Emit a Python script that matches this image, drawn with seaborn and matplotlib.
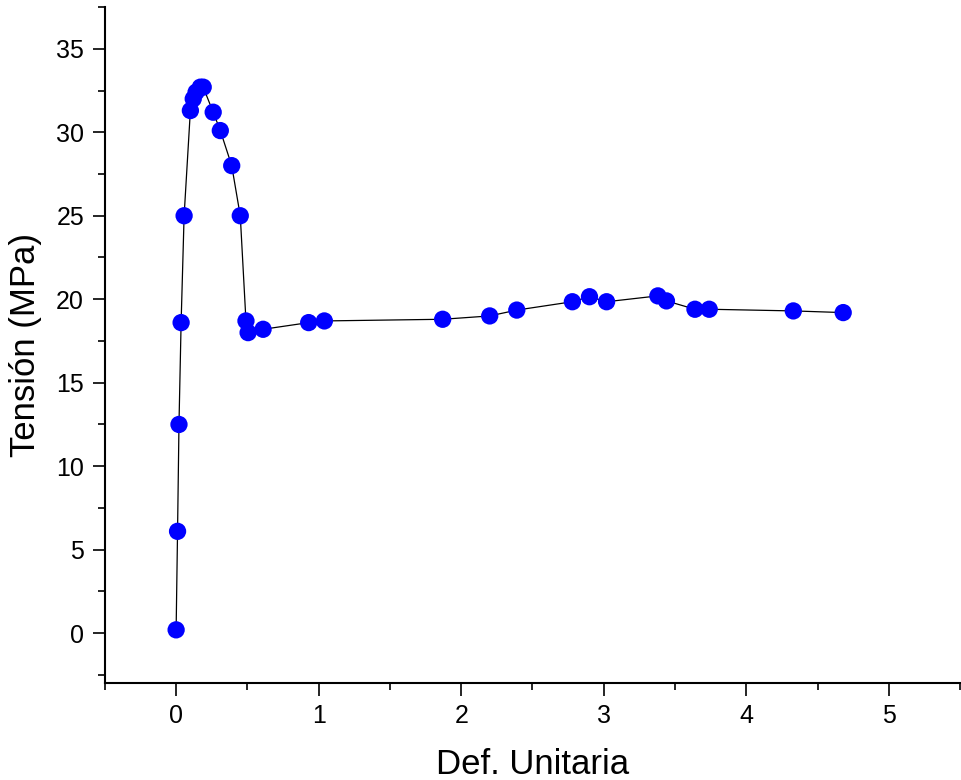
import matplotlib
matplotlib.use("Agg")
import matplotlib.pyplot as plt
import seaborn as sns
import pandas as pd
from matplotlib.ticker import MultipleLocator

strain = [0.0, 0.01, 0.02, 0.035, 0.056, 0.10, 0.12, 0.14, 0.17, 0.19,
          0.26, 0.31, 0.39, 0.45, 0.49, 0.505, 0.61,
          0.93, 1.04, 1.87, 2.20, 2.39, 2.78, 2.90, 3.02, 3.38, 3.44,
          3.64, 3.74, 4.33, 4.68]
stress = [0.2, 6.1, 12.5, 18.6, 25.0, 31.3, 32.0, 32.4, 32.7, 32.7,
          31.2, 30.1, 28.0, 25.0, 18.7, 18.0, 18.2,
          18.6, 18.7, 18.8, 19.0, 19.35, 19.85, 20.15, 19.85, 20.2, 19.9,
          19.4, 19.4, 19.3, 19.2]

df = pd.DataFrame({"Def. Unitaria": strain, "Tensión (MPa)": stress})

sns.set_style("ticks")
plt.rcParams['font.family'] = ['Liberation Sans', 'DejaVu Sans']
plt.rcParams['text.color'] = 'black'
plt.rcParams['axes.labelcolor'] = 'black'

fig = plt.figure(figsize=(9.62, 7.8), dpi=100)
ax = fig.add_axes([0.109, 0.124, 0.889, 0.867])

sns.lineplot(data=df, x="Def. Unitaria", y="Tensión (MPa)", sort=False,
             color="black", linewidth=0.9, ax=ax, zorder=2)
sns.scatterplot(data=df, x="Def. Unitaria", y="Tensión (MPa)", color="#0000FF",
                s=155, edgecolor="none", ax=ax, zorder=3)

ax.set_xlim(-0.5, 5.5)
ax.set_ylim(-3, 37.5)
ax.xaxis.set_major_locator(MultipleLocator(1))
ax.xaxis.set_minor_locator(MultipleLocator(0.5))
ax.yaxis.set_major_locator(MultipleLocator(5))
ax.yaxis.set_minor_locator(MultipleLocator(2.5))

for s in ["top", "right"]:
    ax.spines[s].set_visible(False)
for s in ["left", "bottom"]:
    ax.spines[s].set_linewidth(1.5)
    ax.spines[s].set_color("black")

ax.tick_params(which="major", direction="out", length=9, width=1.2,
               labelsize=18, colors="black", labelcolor="black", pad=6)
ax.tick_params(which="minor", direction="out", length=5, width=1.2, colors="black")
ax.set_xlabel("Def. Unitaria", fontsize=25, labelpad=14, color="black")
ax.set_ylabel("Tensión (MPa)", fontsize=25, labelpad=10, color="black")

fig.savefig("out.png", dpi=100)
